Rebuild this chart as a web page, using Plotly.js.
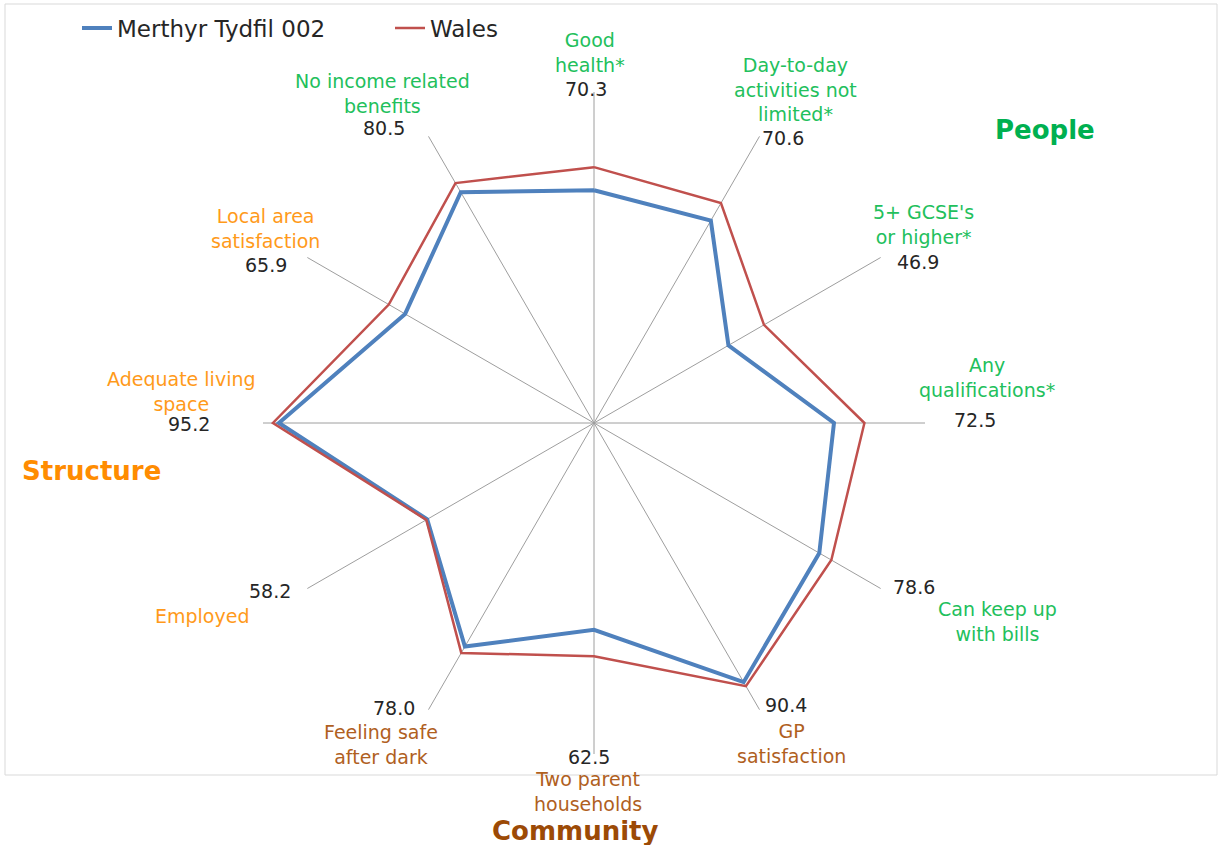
<!DOCTYPE html>
<html>
<head>
<meta charset="utf-8">
<script src="https://cdn.plot.ly/plotly-3.0.1.min.js"></script>
<style>
  body { margin: 0; background: #ffffff; }
  #chartDiv { width: 1219px; height: 845px; }
</style>
</head>
<body>
<div id="chartDiv"></div>
<script>
// spoke labels, clockwise from the top
var labelLines = [
    'Good<br>health*',
    'Day-to-day<br>activities not<br>limited*',
    "5+ GCSE's<br>or higher*",
    'Any<br>qualifications*',
    'Can keep up<br>with bills',
    'GP<br>satisfaction',
    'Two parent<br>households',
    'Feeling safe<br>after dark',
    'Employed',
    'Adequate living<br>space',
    'Local area<br>satisfaction',
    'No income related<br>benefits'
];
var categories = labelLines.map(function (s) { return s.replace(/<br>/g, ' '); });
var groups = ['People', 'People', 'People', 'People', 'People', 'Community',
    'Community', 'Community', 'Structure', 'Structure', 'Structure', 'People'];

var merthyr = [70.3, 70.6, 46.9, 72.5, 78.6, 90.4, 62.5, 78.0, 58.2, 95.2, 65.9, 80.5];
var wales = [77.3, 76.7, 59.3, 81.7, 82.8, 91.8, 70.5, 80.2, 58.5, 97.0, 71.6, 83.7];

// colours for each group: label text, heading text
var groupColour = {People: '#22c05c', Structure: '#ff9a1a', Community: '#b0601e'};
var headColour = {People: '#00b050', Structure: '#ff8c00', Community: '#9c4a06'};

// where the texts sit on the page (pixels from top left)
var labelPos = [[590, 52], [795, 89], [924, 224], [987, 378], [997, 621], [791, 743],
    [588, 791], [381, 744], [202, 616], [181, 391], [265, 228], [383, 94]];
var valuePos = [[586, 89], [783, 138], [918, 262], [975, 420], [914, 587], [786, 705],
    [589, 757], [394, 708], [270, 591], [189, 424], [266, 265], [384, 128]];
var headPos = {People: [1045, 130], Structure: [91, 471], Community: [575, 831]};

var W = 1219, H = 845;
function px(x) { return x / W; }
function py(y) { return 1 - y / H; }

// close the loops
function closeLoop(arr) { return arr.concat([arr[0]]); }

var data = [
    {
        type: 'scatterpolar',
        r: closeLoop(merthyr),
        theta: closeLoop(categories),
        mode: 'lines',
        name: 'Merthyr Tydfil 002',
        line: {color: '#4f81bd', width: 4},
        hoverinfo: 'skip'
    },
    {
        type: 'scatterpolar',
        r: closeLoop(wales),
        theta: closeLoop(categories),
        mode: 'lines',
        name: 'Wales',
        line: {color: '#c0504d', width: 2.5},
        hoverinfo: 'skip'
    }
];

var annotations = [];
for (var i = 0; i < categories.length; i++) {
    annotations.push({
        xref: 'paper', yref: 'paper',
        x: px(labelPos[i][0]), y: py(labelPos[i][1]),
        xanchor: 'center', yanchor: 'middle',
        text: labelLines[i], showarrow: false, align: 'center',
        font: {family: 'DejaVu Sans, Verdana, sans-serif', size: 19, color: groupColour[groups[i]]}
    });
    annotations.push({
        xref: 'paper', yref: 'paper',
        x: px(valuePos[i][0]), y: py(valuePos[i][1]),
        xanchor: 'center', yanchor: 'middle',
        text: merthyr[i].toFixed(1), showarrow: false,
        font: {family: 'DejaVu Sans, Verdana, sans-serif', size: 19, color: '#262626'}
    });
}
Object.keys(headPos).forEach(function (g) {
    annotations.push({
        xref: 'paper', yref: 'paper',
        x: px(headPos[g][0]), y: py(headPos[g][1]),
        xanchor: 'center', yanchor: 'middle',
        text: '<b>' + g + '</b>', showarrow: false,
        font: {family: 'DejaVu Sans, Verdana, sans-serif', size: 26, color: headColour[g]}
    });
});

var cx = 594, cy = 423, rad = 331; // centre and radius of the web in pixels
var layout = {
    width: W,
    height: H,
    margin: {l: 0, r: 0, t: 0, b: 0},
    paper_bgcolor: '#ffffff',
    showlegend: true,
    legend: {
        orientation: 'h',
        x: px(77), y: py(28), xanchor: 'left', yanchor: 'middle',
        font: {family: 'DejaVu Sans, sans-serif', size: 23, color: '#262626'},
        entrywidth: 268, entrywidthmode: 'pixels',
        bgcolor: 'rgba(0,0,0,0)'
    },
    polar: {
        domain: {x: [px(cx - rad), px(cx + rad)], y: [py(cy + rad), py(cy - rad)]},
        bgcolor: '#ffffff',
        radialaxis: {range: [0, 100], visible: false, showgrid: false},
        angularaxis: {
            direction: 'clockwise', rotation: 90,
            showline: false, showticklabels: false, ticks: '',
            showgrid: true, gridcolor: '#9e9e9e', gridwidth: 1.3
        }
    },
    shapes: [{
        type: 'rect', xref: 'paper', yref: 'paper',
        x0: px(5), x1: px(1217), y0: py(775), y1: py(4),
        line: {color: '#d9d9d9', width: 1}
    }],
    annotations: annotations
};

Plotly.newPlot('chartDiv', data, layout, {displayModeBar: false});
</script>
</body>
</html>
